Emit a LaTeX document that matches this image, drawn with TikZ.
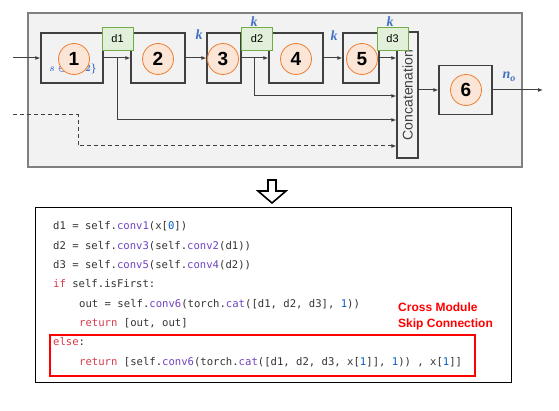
\documentclass[tikz,border=0pt]{standalone}
\usepackage{fontspec}
\usepackage{amsmath}
\setmainfont{Liberation Sans}
\newfontfamily\codefont{DejaVu Sans Mono}
\newfontfamily\kfont{Liberation Serif}
\usetikzlibrary{arrows.meta}
\definecolor{panel}{HTML}{F2F2F2}
\definecolor{panelline}{HTML}{808080}
\definecolor{boxline}{HTML}{404040}
\definecolor{circfill}{HTML}{FBE5D6}
\definecolor{circline}{HTML}{ED7D31}
\definecolor{dfill}{HTML}{E2EFDA}
\definecolor{dline}{HTML}{70AD47}
\definecolor{lblue}{HTML}{4472C4}
\definecolor{codetext}{HTML}{333333}
\definecolor{kwc}{HTML}{D73A49}
\definecolor{fnc}{HTML}{6F42C1}
\definecolor{nmc}{HTML}{005CC5}
\definecolor{redc}{HTML}{FF0000}
\newcommand{\kw}[1]{\textcolor{kwc}{#1}}
\newcommand{\fn}[1]{\textcolor{fnc}{#1}}
\newcommand{\nm}[1]{\textcolor{nmc}{#1}}
\begin{document}
\begin{tikzpicture}[x=1pt,y=-1pt,
  blockbox/.style={draw=boxline, line width=1.2pt, fill=panel, minimum height=50pt, inner sep=0pt},
  numcirc/.style={circle, draw=circline, fill=circfill, line width=0.8pt, minimum size=31pt, inner sep=0pt, font=\fontsize{19}{19}\selectfont\bfseries},
  dlabel/.style={draw=dline, fill=dfill, line width=0.8pt, minimum width=31pt, minimum height=23pt, inner sep=0pt, font=\fontsize{11}{11}\selectfont},
  conn/.style={draw=boxline, line width=1pt, -{Latex[length=5pt,width=4pt]}},
  klabel/.style={text=lblue, font=\kfont\fontsize{14}{14}\selectfont\bfseries\itshape, inner sep=0pt},
  codeline/.style={anchor=base west, inner sep=0pt, text=codetext, font=\codefont\fontsize{10.6}{12}\selectfont},
]
\useasboundingbox (0,0) rectangle (559,411);
% panel
\node[draw=panelline, fill=panel, line width=1.2pt, minimum width=494pt, minimum height=154pt, inner sep=0pt] (panel) at (275,90) {};
% blocks
\node[blockbox, minimum width=62pt] (b1) at (72,58) {};
\node[blockbox, minimum width=54pt] (b2) at (158,58) {};
\node[blockbox, minimum width=34pt] (b3) at (224,58) {};
\node[blockbox, minimum width=54pt] (b4) at (296,58) {};
\node[blockbox, minimum width=36pt] (b5) at (361,58) {};
\node[blockbox, minimum width=53pt, minimum height=49pt] (b6) at (465.5,90) {};
\node[blockbox, minimum width=21pt, minimum height=126pt] (cat) at (407.5,95)
  {\rotatebox{90}{\fontsize{14}{14}\selectfont\color{boxline}Concatenation}};
% s label
\node[text=lblue, inner sep=0pt, font=\fontsize{10}{10}\selectfont\boldmath] (slab) at (73,69) {$s \in \{1, 2\}$};
% circles
\node[numcirc] (c1) at (74,59) {1};
\node[numcirc] (c2) at (158,59) {2};
\node[numcirc] (c3) at (223,59) {3};
\node[numcirc] (c4) at (296,59) {4};
\node[numcirc] (c5) at (362,59) {5};
\node[numcirc] (c6) at (466,90) {6};
% coordinates
\coordinate (in) at (13,58);
\coordinate (din) at (13,115);
\coordinate (dk) at (78,146);
\coordinate (j1) at (117,58);
\coordinate (j1d) at (117,120);
\coordinate (j2) at (254,58);
\coordinate (j2d) at (254,96);
\coordinate (out) at (543,90);
% connectors
\draw[conn] (in) -- (b1.west);
\draw[conn] (b1.east) -- (b2.west);
\draw[conn] (b2.east) -- (b3.west);
\draw[conn] (b3.east) -- (b4.west);
\draw[conn] (b4.east) -- (b5.west);
\draw[conn] (b5.east) -- (cat.west |- b5.east);
\draw[conn] (j1) -- (j1d) -- (cat.west |- j1d);
\draw[conn] (j2) -- (j2d) -- (cat.west |- j2d);
\draw[conn, dash pattern=on 4pt off 3pt] (din) -| (dk) -- (cat.west |- dk);
\draw[conn] (cat.east |- b6.west) -- (b6.west);
\draw[conn] (b6.east) -- (out);
% k labels
\node[klabel] (k1) at (199,35) {k};
\node[klabel] (k2) at (254,22) {k};
\node[klabel] (k3) at (334,36) {k};
\node[klabel] (k4) at (390,22) {k};
\node[klabel] (no) at (509,77) {n\raisebox{-2.5pt}{\fontsize{10}{10}\selectfont o}};
% d labels
\node[dlabel] (d1) at (117.5,38.5) {d1};
\node[dlabel] (d2) at (257,38.5) {d2};
\node[dlabel] (d3) at (392.5,38.5) {d3};
% down arrow
\draw[black, line width=1.6pt, fill=white, line join=miter] (268,180) -- (276,180) -- (276,191) -- (286,191) -- (272,203) -- (258,191) -- (268,191) -- cycle;
\node[inner sep=0pt, minimum size=0pt] (darrow) at (272,192) {};
% code box
\node[draw=black, line width=1pt, minimum width=476pt, minimum height=174pt, inner sep=0pt] (code) at (273,295) {};
\node[draw=redc, line width=2pt, minimum width=425pt, minimum height=41pt, inner sep=0pt] (redbox) at (262.5,355.5) {};
\node[codeline] (l1) at (53,230) {d1 = self.\fn{conv1}(x[\nm{0}])};
\node[codeline] (l2) at (53,249.3) {d2 = self.\fn{conv3}(self.\fn{conv2}(d1))};
\node[codeline] (l3) at (53,268.6) {d3 = self.\fn{conv5}(self.\fn{conv4}(d2))};
\node[codeline] (l4) at (53,287.9) {\kw{if} self.isFirst:};
\node[codeline] (l5) at (79,307.2) {out = self.\fn{conv6}(torch.\fn{cat}([d1, d2, d3], \nm{1}))};
\node[codeline] (l6) at (79,326.5) {\kw{return} [out, out]};
\node[codeline] (l7) at (53,345.8) {\kw{else}:};
\node[codeline] (l8) at (79,365.1) {\kw{return} [self.\fn{conv6}(torch.\fn{cat}([d1, d2, d3, x[\nm{1}]], \nm{1})) , x[\nm{1}]]};
\node[anchor=base west, inner sep=0pt, text=redc, font=\fontsize{12}{12}\selectfont\bfseries] (cm1) at (398,312) {Cross Module};
\node[anchor=base west, inner sep=0pt, text=redc, font=\fontsize{12}{12}\selectfont\bfseries] (cm2) at (398,327) {Skip Connection};
\end{tikzpicture}
\end{document}
